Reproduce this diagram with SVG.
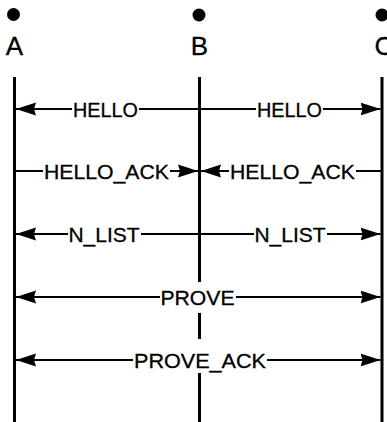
<svg xmlns="http://www.w3.org/2000/svg" width="387" height="422" viewBox="0 0 387 422">
<style>
.life{stroke:#000;stroke-width:3;fill:none}
.dot{fill:#000}
.name{font-family:"Liberation Sans",Arial,sans-serif;font-size:26px;fill:#000;stroke:#000;stroke-width:0.3;text-anchor:middle}
.msg{stroke:#000;stroke-width:1.8;fill:none}
.lbl{font-family:"Liberation Sans",Arial,sans-serif;font-size:21px;fill:#000;stroke:#000;stroke-width:0.3;text-anchor:middle}
.bg{fill:#fff}
</style>
<defs>
<marker id="ah" viewBox="0 0 20 14" refX="20" refY="7" markerWidth="20" markerHeight="14" markerUnits="userSpaceOnUse" orient="auto-start-reverse">
<path d="M0,0.5 L20,7 L0,13.5 L2,7 z" fill="#000"/>
</marker>
</defs>
<rect width="387" height="422" fill="#fff"/>
<g id="node-A">
<circle class="dot" cx="13.5" cy="14.5" r="6.5"/>
<text class="name" x="14.5" y="55">A</text>
<line class="life" x1="14.5" y1="77" x2="14.5" y2="422"/>
</g>
<g id="node-B">
<circle class="dot" cx="199" cy="15" r="6.5"/>
<text class="name" x="199.5" y="55">B</text>
<line class="life" x1="199.5" y1="77" x2="199.5" y2="422"/>
</g>
<g id="node-C">
<circle class="dot" cx="382" cy="15" r="6.5"/>
<text class="name" x="384" y="55">C</text>
<line class="life" x1="382" y1="77" x2="382" y2="422"/>
</g>
<g id="connectors">
<!-- HELLO -->
<line class="msg" x1="199.5" y1="109" x2="16" y2="109" marker-end="url(#ah)"/>
<rect class="bg" x="72" y="98" width="67" height="22"/>
<text class="lbl" x="105.5" y="116.5" textLength="65" lengthAdjust="spacingAndGlyphs">HELLO</text>
<line class="msg" x1="199.5" y1="109" x2="380.5" y2="109" marker-end="url(#ah)"/>
<rect class="bg" x="256" y="98" width="67" height="22"/>
<text class="lbl" x="289.5" y="116.5" textLength="65" lengthAdjust="spacingAndGlyphs">HELLO</text>
<!-- HELLO_ACK -->
<line class="msg" x1="14.5" y1="171" x2="198" y2="171" marker-end="url(#ah)"/>
<rect class="bg" x="43" y="160" width="127" height="22"/>
<text class="lbl" x="106.5" y="178.5" textLength="125" lengthAdjust="spacingAndGlyphs">HELLO_ACK</text>
<line class="msg" x1="382" y1="171" x2="201" y2="171" marker-end="url(#ah)"/>
<rect class="bg" x="229" y="160" width="127" height="22"/>
<text class="lbl" x="292.5" y="178.5" textLength="125" lengthAdjust="spacingAndGlyphs">HELLO_ACK</text>
<!-- N_LIST -->
<line class="msg" x1="199.5" y1="234" x2="16" y2="234" marker-end="url(#ah)"/>
<rect class="bg" x="68" y="223" width="73" height="22"/>
<text class="lbl" x="104" y="241.5" textLength="71" lengthAdjust="spacingAndGlyphs">N_LIST</text>
<line class="msg" x1="199.5" y1="234" x2="380.5" y2="234" marker-end="url(#ah)"/>
<rect class="bg" x="254" y="223" width="73" height="22"/>
<text class="lbl" x="290" y="241.5" textLength="71" lengthAdjust="spacingAndGlyphs">N_LIST</text>
<!-- PROVE -->
<line class="msg" x1="16" y1="297" x2="380.5" y2="297" marker-start="url(#ah)" marker-end="url(#ah)"/>
<rect class="bg" x="160" y="282" width="76" height="31"/>
<text class="lbl" x="197.5" y="304.5" textLength="74" lengthAdjust="spacingAndGlyphs">PROVE</text>
<!-- PROVE_ACK -->
<line class="msg" x1="16" y1="360" x2="380.5" y2="360" marker-start="url(#ah)" marker-end="url(#ah)"/>
<rect class="bg" x="133" y="339" width="134" height="34"/>
<text class="lbl" x="200" y="367.5" textLength="132" lengthAdjust="spacingAndGlyphs">PROVE_ACK</text>
</g>
</svg>
